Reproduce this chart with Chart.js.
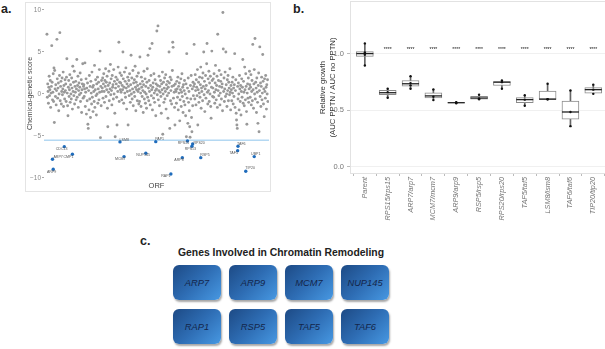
<!DOCTYPE html>
<html><head><meta charset="utf-8">
<script src="https://cdn.jsdelivr.net/npm/chart.js@4.4.1/dist/chart.umd.min.js"></script>
<style>
html,body{margin:0;padding:0;background:#fff;width:605px;height:349px;overflow:hidden;position:relative;font-family:"Liberation Sans",Arial,sans-serif;}
.lab{position:absolute;font-weight:bold;font-size:12.5px;color:#222;line-height:1;}
#wrapA{position:absolute;left:25px;top:2px;width:246px;height:190px;box-sizing:border-box;border:1px solid #e4e4e4;}
#cA{position:absolute;left:0;top:0;}
#cB{position:absolute;left:300px;top:0;}
#titleC{position:absolute;left:130px;width:302px;top:247px;text-align:center;font-weight:bold;font-size:10.4px;line-height:12px;color:#222;white-space:nowrap;}
.gbox{position:absolute;width:48px;height:35px;border-radius:6px;background:linear-gradient(135deg,#1d4a85 0%,#2e6db4 50%,#4798e2 100%);box-shadow:1px 2px 2px rgba(0,0,0,0.35);display:flex;align-items:center;justify-content:center;font-style:italic;font-size:9.3px;color:#14264a;}
</style></head>
<body>
<div class="lab" style="left:1px;top:3px;">a.</div>
<div class="lab" style="left:293px;top:3px;">b.</div>
<div class="lab" style="left:140px;top:235px;">c.</div>
<div id="wrapA"><canvas id="cA" width="244" height="188"></canvas></div>
<canvas id="cB" width="310" height="240"></canvas>
<div id="titleC">Genes Involved in Chromatin Remodeling</div>
<div id="genesC"></div>
<script>
// ---------- Panel a data ----------
const orfScores = [
7.1,-0.4,1.2,0.3,-1.1,0.8,2.1,-0.2,0.5,1.6,-1.6,0.1,0.9,5.75,1.4,-0.7,0.2,2.4,-0.9,3.1,-3.4,2.8,0.6,-0.3,1.1,-1.3,0.4,6.5,1.8,-0.5,0.7,1.3,-2.0,0.0,2.2,7.3,-0.8,0.9,1.5,-1.2,0.3,1.9,-0.1,0.6,2.6,-1.5,1.0,0.2,-0.6,1.7,
0.4,1.2,-0.9,2.0,4.2,0.1,-1.4,-2.6,0.8,1.6,-0.3,0.5,2.3,-1.0,1.1,0.0,-0.6,1.9,0.7,-1.8,3.3,0.3,1.4,-0.2,2.7,-1.2,0.9,0.2,1.5,-0.7,0.6,4.1,-0.4,1.0,2.1,-1.6,0.4,1.3,-0.1,0.8,2.5,-0.9,0.1,1.7,-2.2,0.5,1.2,3.6,-0.5,0.9,
1.1,-0.3,0.6,3.7,-1.5,0.2,1.8,-2.4,0.7,-0.8,1.3,-3.6,-4.1,0.4,-1.9,2.2,-0.6,0.9,-2.8,1.5,0.1,-1.2,2.6,-0.4,0.8,-2.1,1.0,0.3,-0.9,3.4,-1.6,0.5,1.7,-0.2,-2.5,1.2,0.0,2.0,-1.1,0.6,1.4,-0.7,2.9,0.2,5.1,-5.2,0.9,-1.4,1.6,0.3,
0.7,1.9,-0.5,1.2,2.4,0.3,-1.0,1.6,0.9,3.0,-0.3,1.4,0.5,2.1,-1.7,-3.9,1.0,0.2,2.7,-0.8,1.3,0.6,3.5,-0.1,1.8,0.4,-1.3,2.2,0.8,1.1,-0.6,2.9,0.0,1.5,-2.3,-5.1,0.7,2.0,1.2,-0.4,-3.7,1.7,0.3,3.2,0.9,6.15,-0.9,1.4,2.5,0.5,
1.3,0.2,2.2,-0.7,1.0,0.5,5.0,1.8,-1.1,0.8,2.6,0.1,1.5,-0.4,3.1,0.7,-1.8,1.2,0.3,2.0,-3.7,0.9,1.6,-0.2,2.4,0.4,-1.0,1.1,4.6,0.0,1.9,-0.6,0.6,2.8,-1.4,1.3,0.2,1.7,-0.3,3.3,0.8,-2.0,1.4,0.5,2.1,-0.8,1.0,0.3,2.5,-1.2,
0.6,-0.9,4.4,1.2,0.1,-1.5,2.0,0.8,-0.3,1.5,0.4,-2.2,1.1,2.7,-0.6,0.2,1.8,-1.1,0.9,0.0,-1.7,1.4,3.0,-0.4,4.6,0.7,-0.8,1.6,0.3,5.4,-1.3,1.0,2.2,-0.2,0.5,6.0,-1.9,0.8,1.3,-0.5,2.4,0.1,-1.0,1.7,0.4,-2.6,1.2,0.6,7.5,-0.1,
1.0,8.1,-0.7,0.4,2.1,-1.4,0.9,0.2,1.6,-0.3,-2.3,1.2,0.5,2.6,-4.8,0.0,1.4,-1.0,0.7,1.9,-0.6,0.3,2.3,-1.8,1.1,0.6,-0.2,1.5,-2.9,0.8,0.1,5.0,1.3,-4.1,2.0,-0.8,0.4,1.7,-1.2,0.9,2.8,6.15,5.55,-0.5,1.0,0.2,-1.6,-3.7,1.2,0.5,
0.3,-1.1,1.5,0.6,-0.4,2.0,-1.9,0.9,0.1,1.3,-3.2,-0.7,0.5,1.8,-1.5,0.2,2.4,-0.3,0.8,-2.2,1.1,-0.9,0.4,1.6,-1.3,0.0,-2.6,1.2,-5.1,4.8,-0.5,0.7,-3.5,1.9,-1.0,0.3,-2.0,-3.9,-5.15,1.0,-0.6,2.2,-2.8,-4.5,0.6,-1.4,1.4,-0.2,0.9,5.9,
1.2,-0.6,2.3,0.4,-1.3,1.7,0.8,-0.2,2.9,-3.7,0.5,1.4,-1.0,0.1,2.0,-0.4,1.1,3.2,-1.7,0.7,0.3,1.9,-0.8,2.5,0.9,5.0,-0.1,1.5,-2.1,0.6,2.2,-0.5,1.0,3.6,6.0,0.2,-1.2,1.8,0.4,2.7,-0.9,1.3,0.0,2.1,-1.5,-2.9,0.8,5.1,1.6,-0.3,
0.7,1.8,-0.4,2.4,0.2,-1.1,1.3,3.4,0.5,-0.7,1.0,2.1,-1.6,7.1,0.4,1.6,-0.2,2.8,0.9,-1.3,0.1,1.5,2.3,-0.6,0.8,1.2,-2.0,9.7,5.35,0.3,1.9,-0.9,0.6,2.6,-0.3,5.0,1.1,0.0,-1.5,1.7,0.4,2.2,-0.8,1.4,0.7,-0.1,3.0,0.2,-1.9,1.0,
0.5,-0.8,1.4,0.1,2.0,-1.2,0.7,-0.3,1.1,4.8,-1.6,0.4,1.7,-2.3,-3.1,-3.7,-4.1,0.9,-0.6,1.3,0.0,-1.9,2.2,0.6,-0.9,1.0,-2.5,0.3,1.8,-0.4,0.8,4.1,-1.1,1.5,0.2,-1.4,3.2,0.5,-0.7,2.4,0.9,-2.1,-3.6,0.1,1.2,-0.5,1.9,-1.0,0.6,2.7,
1.1,-0.4,0.8,2.3,-1.3,0.3,1.6,-0.8,5.9,0.5,-1.7,1.2,2.9,0.0,6.6,-0.6,1.4,0.7,-2.2,1.9,0.2,-1.0,-3.5,1.0,2.5,-4.5,0.4,5.6,-0.3,1.3,-1.5,0.9,2.0,-0.7,0.1,4.7,1.5,-1.2,0.6,-2.7,1.8,0.3,-0.5,2.2,0.8,-1.8,1.1,0.0,1.7,-0.9
];
const hitGenes  = ['ARP7','ARP9','CDC13','CMP1','LSM8','MCM7','NUP145','PAP1','RAP1','ARP8','RPS15','RPS20','RPS13','RSP5','TAF6','TAF5','TIP20','UBP1'];
const hitOrf    = [16, 18, 48, 70, 199, 210, 269, 296, 337, 368, 382, 396, 394, 418, 519, 518, 540, 563];
const hitScores = [-7.77,-8.96,-6.27,-7.18,-5.71,-7.46,-7.06,-5.68,-9.52,-7.58,-5.6,-5.95,-6.23,-7.58,-6.23,-6.75,-9.2,-7.46];
const hitLabelNudge = [[5.6,-2],[-1.6,2.7],[-2.7,2.3],[-4,3],[4.2,-2.4],[-3.8,2.3],[-2.7,1.7],[3.9,-2.3],[-5,2],[-3.3,2.7],[-4.1,2.3],[6.5,-1],[-1.5,2.6],[4.3,-3],[3.3,-2.3],[-4,2.6],[4.4,-3],[1.5,-2.7]];
const thresholdScore = -5.5;
const scoreTicks = [-10,-5,0,5,10];
const orfAxisMin = -7, orfAxisMax = 603;

// ---------- Panel b data ----------
const strains = ['Parent','RPS15/rps15','ARP7/arp7','MCM7/mcm7','ARP9/arp9','RSP5/rsp5','RPS20/rps20','TAF5/taf5','LSM8/lsm8','TAF6/taf6','TIP20/tip20'];
const boxLow  = [0.895,0.608,0.69,0.588,0.562,0.596,0.69,0.54,0.596,0.36,0.645];
const boxQ1   = [0.976,0.638,0.713,0.608,0.565,0.598,0.719,0.567,0.598,0.421,0.652];
const boxMed  = [1.0,0.655,0.734,0.627,0.567,0.608,0.748,0.594,0.598,0.485,0.682];
const boxQ3   = [1.018,0.675,0.763,0.655,0.569,0.623,0.754,0.611,0.67,0.582,0.70];
const boxHigh = [1.09,0.69,0.80,0.684,0.572,0.638,0.763,0.632,0.734,0.675,0.726];
const replicates = [[1.09,1.01,1.0,0.99,0.895],[0.69,0.66,0.61],[0.80,0.74,0.72,0.69],[0.684,0.62,0.59],[0.572,0.567,0.562],[0.638,0.605,0.598],[0.763,0.748,0.69],[0.632,0.594,0.54],[0.734,0.598,0.598],[0.675,0.485,0.36],[0.726,0.682,0.645]];
const sigLabels = ['','****','****','****','****','****','****','****','****','****','****'];
const sigHeight = 1.05;
const growthTicks = [0,0.5,1.0];

// ---------- Panel c data ----------
const chromatinGenes = ['ARP7','ARP9','MCM7','NUP145','RAP1','RSP5','TAF5','TAF6'];

const FAM = '"Liberation Sans", Arial, sans-serif';
Chart.defaults.font.family = FAM;
function noPad(s){ s.paddingTop = 0; s.paddingBottom = 0; s.paddingLeft = 0; s.paddingRight = 0; }

// ---- Panel a ----
const hitLabelPlugin = {
  id:'hitLabels',
  afterDatasetsDraw(chart){
    const {ctx, scales:{x,y}} = chart;
    ctx.save();
    ctx.font = '3.6px ' + FAM;
    ctx.fillStyle = '#555';
    ctx.textAlign = 'center';
    ctx.textBaseline = 'middle';
    hitGenes.forEach((g,i)=>{
      const px = x.getPixelForValue(hitOrf[i]);
      const py = y.getPixelForValue(hitScores[i]);
      ctx.fillText(g, px + hitLabelNudge[i][0], py + hitLabelNudge[i][1]);
    });
    ctx.restore();
  }
};

new Chart(document.getElementById('cA'), {
  type:'scatter',
  data:{datasets:[
    {data: orfScores.map((v,i)=>({x:i+1,y:v})), pointRadius:1.45, backgroundColor:'#999999', borderWidth:0, order:3},
    {type:'line', data:[{x:orfAxisMin,y:thresholdScore},{x:orfAxisMax,y:thresholdScore}], borderColor:'#8ec4ec', borderWidth:1, pointRadius:0, order:2},
    {data: hitOrf.map((o,i)=>({x:o,y:hitScores[i]})), pointRadius:1.7, backgroundColor:'#1f6cbc', borderWidth:0, order:1}
  ]},
  options:{
    animation:false, responsive:false, devicePixelRatio:1,
    layout:{autoPadding:false, padding:{top:1,right:1,left:0,bottom:0}},
    plugins:{legend:{display:false},tooltip:{enabled:false}},
    scales:{
      x:{type:'linear', min:orfAxisMin, max:orfAxisMax,
        ticks:{display:false}, grid:{display:false}, border:{display:false},
        title:{display:true, text:'ORF', font:{size:7.5}, color:'#444', padding:{top:0,bottom:0.5}},
        afterFit(s){ s.height = 8; noPad(s); }},
      y:{type:'linear', min:-10.6, max:10.71,
        afterBuildTicks(s){ s.ticks = scoreTicks.map(v=>({value:v})); },
        ticks:{font:{size:6.5}, color:'#888', padding:1, callback:v=>String(v).replace('-','\u2212')},
        grid:{drawOnChartArea:false, tickLength:2, tickColor:'#aaa'}, border:{display:false},
        title:{display:true, text:'Chemical-genetic score', font:{size:7}, color:'#444', padding:{top:0,bottom:0}},
        afterFit(s){ s.width = 18; noPad(s); }}
    }
  },
  plugins:[hitLabelPlugin]
});

// ---- Panel b ----
const panelBorderPlugin = {
  id:'panelBorder',
  beforeDatasetsDraw(chart){
    const {ctx, chartArea:a} = chart;
    ctx.save(); ctx.strokeStyle = '#e2e2e2'; ctx.lineWidth = 1;
    ctx.strokeRect(a.left+0.5, a.top+0.5, a.right-a.left, a.bottom-a.top-1);
    ctx.restore();
  }
};
const sigPlugin = {
  id:'sig',
  afterDatasetsDraw(chart){
    const {ctx, scales:{x,y}} = chart;
    ctx.save(); ctx.font = '5px ' + FAM; ctx.fillStyle = '#111';
    ctx.textAlign = 'center'; ctx.textBaseline = 'middle';
    sigLabels.forEach((t,i)=>{ if(t) ctx.fillText(t, x.getPixelForValue(i), y.getPixelForValue(sigHeight)+1.2); });
    ctx.restore();
  }
};
const pts = [];
replicates.forEach((arr,i)=>arr.forEach(v=>pts.push({x:i,y:v})));

new Chart(document.getElementById('cB'), {
  type:'bar',
  data:{datasets:[
    {type:'bar', data: strains.map((s,i)=>({x:i, y:[boxLow[i], boxHigh[i]]})), barThickness:1, backgroundColor:'#666', borderWidth:0, grouped:false, order:4},
    {type:'bar', data: strains.map((s,i)=>({x:i, y:[boxQ1[i], boxQ3[i]]})), barThickness:17, backgroundColor:'#ffffff', borderColor:'#8a8a8a', borderWidth:1, borderSkipped:false, grouped:false, order:3},
    {type:'scatter', data: strains.map((s,i)=>({x:i, y:boxMed[i]})), pointStyle:'line', pointRadius:8.5, borderColor:'#222', borderWidth:1.3, order:2},
    {type:'scatter', data: pts, pointRadius:1.2, backgroundColor:'#111', borderWidth:0, order:1}
  ]},
  options:{
    animation:false, responsive:false, devicePixelRatio:1,
    layout:{autoPadding:false, padding:{top:1,right:3,left:0,bottom:0}},
    plugins:{legend:{display:false},tooltip:{enabled:false}},
    scales:{
      x:{type:'linear', min:-0.65, max:10.6, offset:false,
        afterBuildTicks(s){ s.ticks = strains.map((n,i)=>({value:i})); },
        ticks:{autoSkip:false, maxRotation:90, minRotation:90, font:{size:7.3, style:'italic'}, color:'#777', padding:1, callback:v=>strains[v]},
        grid:{drawOnChartArea:false, tickLength:2, tickColor:'#bbb'}, border:{display:false},
        afterFit(s){ s.height = 66; noPad(s); }},
      y:{type:'linear', min:-0.062, max:1.464,
        afterBuildTicks(s){ s.ticks = growthTicks.map(v=>({value:v})); },
        ticks:{font:{size:7.5}, color:'#777', padding:3, callback:v=>v.toFixed(1)},
        grid:{color:'#ececec', lineWidth:0.8, tickLength:3, tickColor:'#aaa'}, border:{display:false},
        title:{display:true, text:['Relative growth','(AUC PPTN / AUC no PPTN)'], font:{size:7.7, lineHeight:1.3}, color:'#333', padding:{top:18,bottom:0}},
        afterFit(s){ s.width = 50; noPad(s); }}
    }
  },
  plugins:[panelBorderPlugin, sigPlugin]
});

// ---- Panel c ----
const host = document.getElementById('genesC');
chromatinGenes.forEach((g,i)=>{
  const d = document.createElement('div');
  d.className = 'gbox';
  d.style.left = (173 + (i%4)*56) + 'px';
  d.style.top = (265 + Math.floor(i/4)*44) + 'px';
  d.textContent = g;
  host.appendChild(d);
});
</script>
</body></html>
